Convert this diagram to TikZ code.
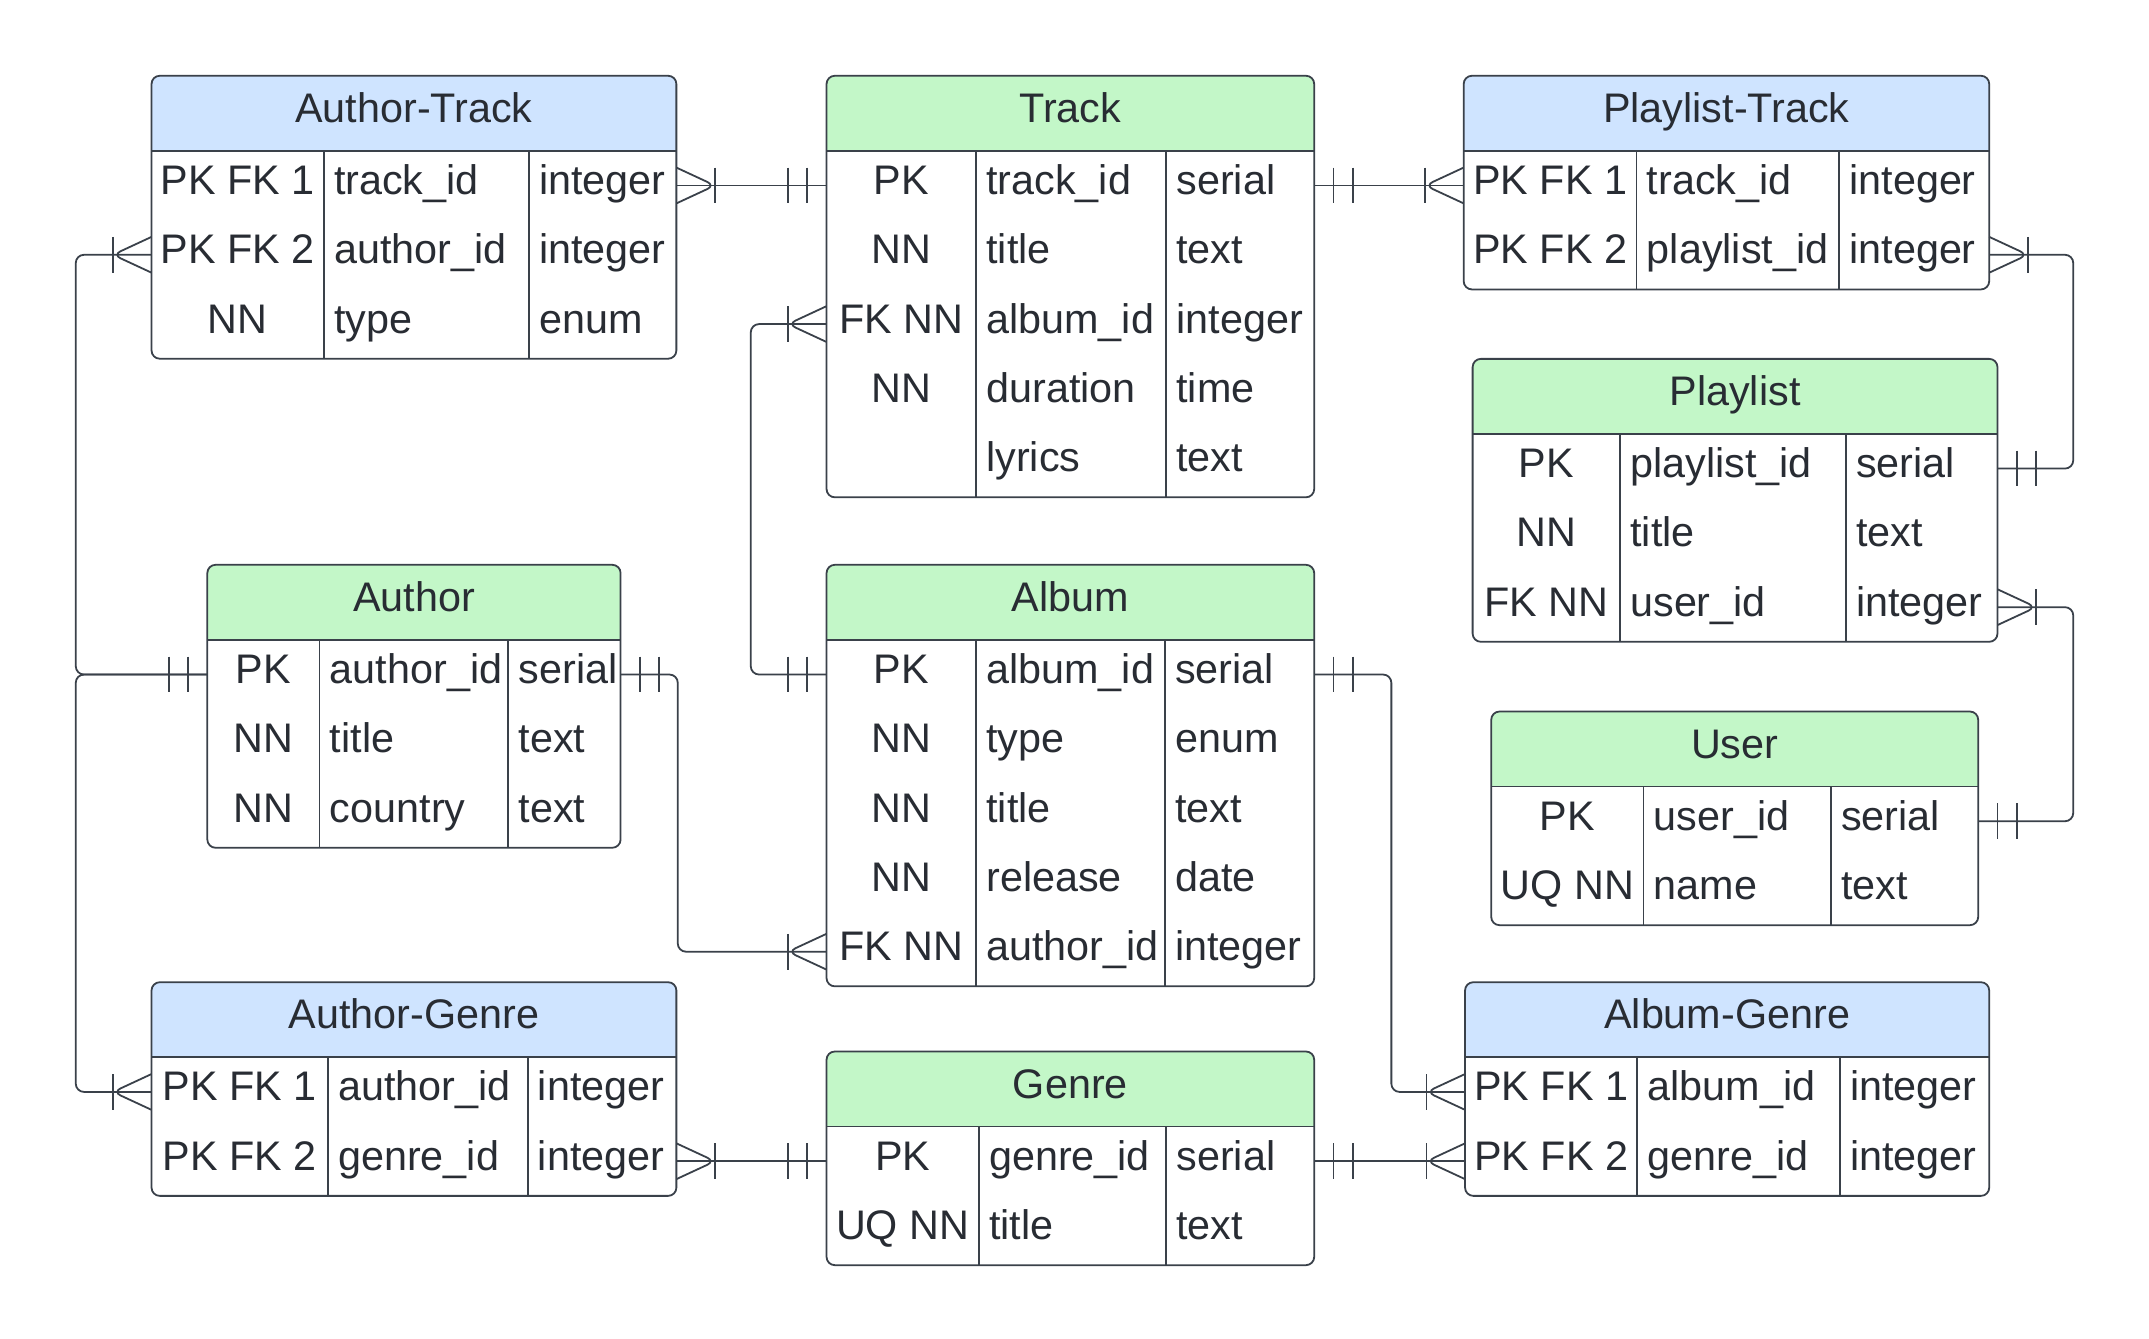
\documentclass[tikz,border=0pt]{standalone}
\usepackage{fontspec}
\setmainfont{Liberation Sans}
\definecolor{linecol}{HTML}{3A414A}
\definecolor{txtcol}{HTML}{282C33}
\definecolor{hdrblue}{HTML}{CFE4FF}
\definecolor{hdrgreen}{HTML}{C3F7C8}
\newcommand\hh{54.5}
\newcommand\rh{50.3}
\newcommand\bloff{6.5}
\tikzset{
  tablebox/.style={draw=linecol, line width=1.3pt, rounded corners=6pt, anchor=north west, inner sep=0pt, outer sep=0pt},
  divline/.style={draw=linecol, line width=1.3pt},
  celltext/.style={inner sep=0pt, outer sep=0pt, text=txtcol, font=\fontsize{30}{35}\selectfont},
  conn/.style={draw=linecol, line width=1.3pt, rounded corners=6pt},
}
% #1 name #2 x0 #3 y0 #4 c1 #5 c2 #6 x1 #7 rows #8 title #9 fill
\newcommand\ertable[9]{%
  \expandafter\def\csname erXa#1\endcsname{#2}%
  \expandafter\def\csname erYa#1\endcsname{#3}%
  \expandafter\def\csname erXb#1\endcsname{#4}%
  \expandafter\def\csname erXc#1\endcsname{#5}%
  \pgfmathsetmacro\erbot{#3+\hh+\rh*#7}%
  \pgfmathsetmacro\erhdr{#3+\hh}%
  \pgfmathsetmacro\erw{#6-#2}%
  \pgfmathsetmacro\erh{\erbot-#3}%
  \pgfmathsetmacro\ertx{(#2+#6)/2}%
  \pgfmathsetmacro\erty{#3+\hh/2+\bloff}%
  \begin{scope}
    \clip[rounded corners=6pt] (#2,#3) rectangle (#6,\erbot);
    \fill[#9] (#2,#3) rectangle (#6,\erhdr);
  \end{scope}
  \node[tablebox, minimum width=\erw pt, minimum height=\erh pt] (#1) at (#2,#3) {};
  \draw[divline] (#2,\erhdr) -- (#6,\erhdr);
  \draw[divline] (#4,\erhdr) -- (#4,\erbot);
  \draw[divline] (#5,\erhdr) -- (#5,\erbot);
  \node[celltext, anchor=base] (#1-title) at (\ertx,\erty) {#8};
  \foreach \k in {1,...,#7} {\pgfmathsetmacro\erry{#3+\hh+\rh*(\k-0.5)}\coordinate (#1-r\k) at (#2,\erry);}
}
% #1 table #2 row #3 key #4 field #5 type
\newcommand\errow[5]{%
  \edef\erxa{\csname erXa#1\endcsname}%
  \edef\erxb{\csname erXb#1\endcsname}%
  \edef\erxc{\csname erXc#1\endcsname}%
  \edef\erya{\csname erYa#1\endcsname}%
  \pgfmathsetmacro\ery{\erya+\hh+\rh*(#2-0.5)+\bloff}%
  \pgfmathsetmacro\erkx{(\erxa+\erxb)/2}%
  \pgfmathsetmacro\erfx{\erxb+7.5}%
  \pgfmathsetmacro\ertyx{\erxc+7.5}%
  \if\relax\detokenize{#3}\relax\else
    \node[celltext, anchor=base] (#1-k#2) at (\erkx,\ery) {#3};
  \fi
  \node[celltext, anchor=base west] (#1-f#2) at (\erfx,\ery) {#4};
  \node[celltext, anchor=base west] (#1-y#2) at (\ertyx,\ery) {#5};
}
\newcommand\crowfoot[2]{%
  \draw[conn] #1 ++(0,-13) -- ++(#2,13) -- ++({-1*(#2)},13);
  \draw[conn] #1 ++(#2,-13) -- ++(0,26);}
\newcommand\onlyone[2]{%
  \draw[conn] #1 ++({0.5*(#2)},-13) -- ++(0,26);
  \draw[conn] #1 ++(#2,-13) -- ++(0,26);}
\begin{document}
\begin{tikzpicture}[x=1pt,y=-1pt]
\useasboundingbox (0,0) rectangle (1560,972);
\fill[white] (0,0) rectangle (1560,972);

\ertable{AT}{110}{55}{235}{384}{491}{3}{Author-Track}{hdrblue}
\errow{AT}{1}{PK FK 1}{track\_id}{integer}
\errow{AT}{2}{PK FK 2}{author\_id}{integer}
\errow{AT}{3}{NN}{type}{enum}

\ertable{T}{600}{55}{708.5}{846.5}{954}{5}{Track}{hdrgreen}
\errow{T}{1}{PK}{track\_id}{serial}
\errow{T}{2}{NN}{title}{text}
\errow{T}{3}{FK NN}{album\_id}{integer}
\errow{T}{4}{NN}{duration}{time}
\errow{T}{5}{}{lyrics}{text}

\ertable{PT}{1062.5}{55}{1188}{1335}{1444}{2}{Playlist-Track}{hdrblue}
\errow{PT}{1}{PK FK 1}{track\_id}{integer}
\errow{PT}{2}{PK FK 2}{playlist\_id}{integer}

\ertable{P}{1069}{260.5}{1176}{1340}{1450}{3}{Playlist}{hdrgreen}
\errow{P}{1}{PK}{playlist\_id}{serial}
\errow{P}{2}{NN}{title}{text}
\errow{P}{3}{FK NN}{user\_id}{integer}

\ertable{A}{150.5}{410}{232}{369}{450.5}{3}{Author}{hdrgreen}
\errow{A}{1}{PK}{author\_id}{serial}
\errow{A}{2}{NN}{title}{text}
\errow{A}{3}{NN}{country}{text}

\ertable{AL}{600}{410}{708.5}{845.5}{954}{5}{Album}{hdrgreen}
\errow{AL}{1}{PK}{album\_id}{serial}
\errow{AL}{2}{NN}{type}{enum}
\errow{AL}{3}{NN}{title}{text}
\errow{AL}{4}{NN}{release}{date}
\errow{AL}{5}{FK NN}{author\_id}{integer}

\ertable{U}{1082.5}{516.5}{1193}{1329}{1436}{2}{User}{hdrgreen}
\errow{U}{1}{PK}{user\_id}{serial}
\errow{U}{2}{UQ NN}{name}{text}

\ertable{AG}{110}{713}{238}{383}{491}{2}{Author-Genre}{hdrblue}
\errow{AG}{1}{PK FK 1}{author\_id}{integer}
\errow{AG}{2}{PK FK 2}{genre\_id}{integer}

\ertable{G}{600}{763.3}{710.5}{846.5}{954}{2}{Genre}{hdrgreen}
\errow{G}{1}{PK}{genre\_id}{serial}
\errow{G}{2}{UQ NN}{title}{text}

\ertable{ALG}{1063.5}{713}{1188.5}{1335.5}{1444}{2}{Album-Genre}{hdrblue}
\errow{ALG}{1}{PK FK 1}{album\_id}{integer}
\errow{ALG}{2}{PK FK 2}{genre\_id}{integer}

% bus coordinates
\coordinate (rbus) at (1505,0);
\coordinate (lbus) at (55,0);
\coordinate (tabus) at (545,0);
\coordinate (aabus) at (492,0);
\coordinate (agbus) at (1010,0);

% Author-Track -- Track
\draw[conn] (AT.east |- AT-r1) -- (T.west |- T-r1);
\crowfoot{(AT.east |- AT-r1)}{28}
\onlyone{(T.west |- T-r1)}{-28}

% Track -- Playlist-Track
\draw[conn] (T.east |- T-r1) -- (PT.west |- PT-r1);
\onlyone{(T.east |- T-r1)}{28}
\crowfoot{(PT.west |- PT-r1)}{-28}

% Playlist-Track -- Playlist
\draw[conn] (PT.east |- PT-r2) -- (rbus |- PT-r2) -- (rbus |- P-r1) -- (P.east |- P-r1);
\crowfoot{(PT.east |- PT-r2)}{28}
\onlyone{(P.east |- P-r1)}{28}

% Playlist -- User
\draw[conn] (P.east |- P-r3) -- (rbus |- P-r3) -- (rbus |- U-r1) -- (U.east |- U-r1);
\crowfoot{(P.east |- P-r3)}{28}
\onlyone{(U.east |- U-r1)}{28}

% Track -- Album
\draw[conn] (T.west |- T-r3) -- (tabus |- T-r3) -- (tabus |- AL-r1) -- (AL.west |- AL-r1);
\crowfoot{(T.west |- T-r3)}{-28}
\onlyone{(AL.west |- AL-r1)}{-28}

% Author -- Author-Track
\draw[conn] (A.west |- A-r1) -- (lbus |- A-r1) -- (lbus |- AT-r2) -- (AT.west |- AT-r2);
\crowfoot{(AT.west |- AT-r2)}{-28}
% Author -- Author-Genre
\draw[conn] (A.west |- A-r1) -- (lbus |- A-r1) -- (lbus |- AG-r1) -- (AG.west |- AG-r1);
\crowfoot{(AG.west |- AG-r1)}{-28}
\onlyone{(A.west |- A-r1)}{-28}

% Author -- Album
\draw[conn] (A.east |- A-r1) -- (aabus |- A-r1) -- (aabus |- AL-r5) -- (AL.west |- AL-r5);
\onlyone{(A.east |- A-r1)}{28}
\crowfoot{(AL.west |- AL-r5)}{-28}

% Author-Genre -- Genre
\draw[conn] (AG.east |- AG-r2) -- (G.west |- G-r1);
\crowfoot{(AG.east |- AG-r2)}{28}
\onlyone{(G.west |- G-r1)}{-28}

% Genre -- Album-Genre
\draw[conn] (G.east |- G-r1) -- (ALG.west |- ALG-r2);
\onlyone{(G.east |- G-r1)}{28}
\crowfoot{(ALG.west |- ALG-r2)}{-28}

% Album -- Album-Genre
\draw[conn] (AL.east |- AL-r1) -- (agbus |- AL-r1) -- (agbus |- ALG-r1) -- (ALG.west |- ALG-r1);
\onlyone{(AL.east |- AL-r1)}{28}
\crowfoot{(ALG.west |- ALG-r1)}{-28}
\end{tikzpicture}
\end{document}
